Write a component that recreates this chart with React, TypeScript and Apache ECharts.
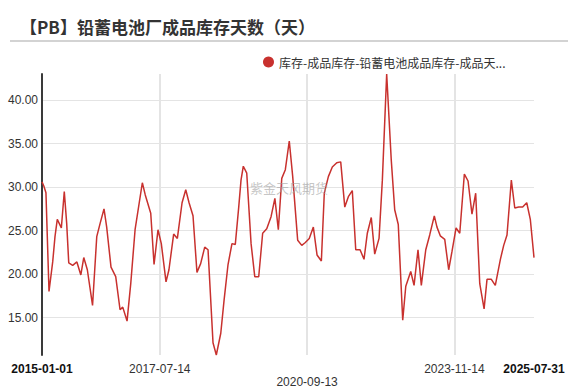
import React, { useEffect, useRef } from "react";
import * as echarts from "echarts";

const TITLE = "【PB】铅蓄电池厂成品库存天数（天）";
const SERIES_NAME = "库存-成品库存-铅蓄电池成品库存-成品天数（天）";
const WATERMARK = "紫金天风期货";

const dates: string[] = [
  "2015-01-01", "2015-01-16", "2015-02-01", "2015-02-25", "2015-03-26", "2015-04-13", "2015-05-01", "2015-05-17",
  "2015-06-02", "2015-06-25", "2015-07-14", "2015-07-30", "2015-08-30", "2015-10-02", "2015-11-02", "2015-11-25",
  "2015-12-23", "2016-02-02", "2016-03-06", "2016-04-01", "2016-05-02", "2016-05-23", "2016-06-26", "2016-08-02",
  "2016-09-05", "2016-09-26", "2016-10-30", "2016-11-28", "2017-01-01", "2017-02-27", "2017-03-22", "2017-05-04",
  "2017-05-30", "2017-06-30", "2017-07-26", "2017-09-01", "2017-09-24", "2017-10-31", "2017-11-29", "2018-01-05",
  "2018-02-03", "2018-03-01", "2018-04-01", "2018-05-02", "2018-05-31", "2018-07-02", "2018-07-28", "2018-09-05",
  "2018-10-01", "2018-11-05", "2018-12-01", "2019-01-01", "2019-02-01", "2019-02-27", "2019-03-26", "2019-04-13",
  "2019-05-01", "2019-05-28", "2019-07-01", "2019-07-30", "2019-08-30", "2019-09-30", "2019-11-01", "2019-12-05",
  "2020-01-04", "2020-01-31", "2020-02-27", "2020-03-26", "2020-04-26", "2020-05-23", "2020-07-01", "2020-08-02",
  "2020-08-28", "2020-09-30", "2020-11-01", "2020-11-30", "2021-01-03", "2021-01-26", "2021-02-27", "2021-03-30",
  "2021-05-04", "2021-06-04", "2021-07-06", "2021-08-03", "2021-09-03", "2021-09-30", "2021-11-03", "2021-12-04",
  "2021-12-30", "2022-01-30", "2022-02-26", "2022-04-01", "2022-04-27", "2022-05-31", "2022-07-06", "2022-08-02",
  "2022-08-30", "2022-10-04", "2022-10-28", "2022-12-06", "2023-01-01", "2023-02-01", "2023-02-27", "2023-04-03",
  "2023-05-04", "2023-06-09", "2023-06-30", "2023-07-26", "2023-08-30", "2023-09-30", "2023-10-26", "2023-11-27",
  "2023-12-26", "2024-01-31", "2024-02-29", "2024-03-31", "2024-04-29", "2024-05-31", "2024-07-04", "2024-07-27",
  "2024-08-30", "2024-09-30", "2024-11-09", "2024-12-05", "2024-12-31", "2025-02-03", "2025-03-02", "2025-04-02",
  "2025-05-03", "2025-06-04", "2025-07-02", "2025-07-31",
];

const values: number[] = [
  30.6, 30.1, 29.35, 18.0, 21.4, 24.3, 26.3, 25.8,
  25.3, 29.5, 25.8, 21.3, 21.0, 21.4, 19.9, 21.9,
  20.5, 16.4, 24.3, 25.8, 27.5, 25.4, 20.8, 19.7,
  15.9, 16.2, 14.6, 18.9, 25.1, 30.5, 29.1, 27.0,
  21.1, 25.1, 23.5, 19.1, 20.5, 24.6, 24.1, 28.2,
  29.7, 28.2, 26.7, 20.2, 21.2, 23.1, 22.8, 12.1,
  10.7, 13.2, 17.0, 21.1, 23.5, 23.4, 27.7, 30.8,
  32.4, 31.6, 23.5, 19.7, 19.7, 24.7, 25.2, 26.6,
  28.7, 25.1, 31.0, 32.0, 35.3, 31.2, 23.9, 23.3,
  23.6, 24.1, 25.4, 22.2, 21.5, 29.3, 31.2, 32.3,
  32.8, 32.9, 27.7, 28.9, 29.6, 22.8, 22.8, 21.7,
  24.7, 26.5, 22.3, 24.1, 30.8, 43.0, 33.1, 27.4,
  25.7, 14.7, 18.6, 20.3, 18.7, 22.8, 18.7, 22.8,
  24.5, 26.7, 25.4, 24.4, 24.0, 20.5, 22.6, 25.3,
  24.7, 31.5, 30.7, 26.9, 29.3, 18.9, 16.0, 19.4,
  19.4, 18.7, 21.7, 23.3, 24.5, 30.8, 27.6, 27.7,
  27.7, 28.2, 26.3, 21.9,
];

const xTickLabels: string[] = ["2015-01-01", "2017-07-14", "2020-09-13", "2023-11-14", "2025-07-31"];

const LINE_COLOR = "#c8312e";
const FONT = "'Liberation Sans', Arial, 'Noto Sans CJK SC', sans-serif";

export default function App() {
  const ref = useRef<HTMLDivElement>(null);

  useEffect(() => {
    if (!ref.current) return;
    const chart = echarts.init(ref.current, null, { renderer: "svg" });
    const toTs = (d: string) => +echarts.time.parse(d);
    const tickValues = xTickLabels.map(toTs);
    const first = tickValues[0];
    const last = tickValues[tickValues.length - 1];
    const labelOf = (v: number) => {
      let best = 0;
      for (let i = 1; i < tickValues.length; i++) {
        if (Math.abs(tickValues[i] - v) < Math.abs(tickValues[best] - v)) best = i;
      }
      return { text: xTickLabels[best], idx: best };
    };
    chart.setOption({
      animation: false,
      backgroundColor: "#ffffff",
      title: {
        text: TITLE,
        left: 15,
        top: 13,
        textStyle: {
          fontSize: 17,
          fontWeight: "bold",
          color: "#333333",
          fontFamily: "'Noto Sans CJK SC', sans-serif",
        },
      },
      legend: {
        show: true,
        left: 258,
        top: 51,
        icon: "circle",
        itemWidth: 11,
        itemHeight: 11,
        itemGap: 10,
        textStyle: {
          fontSize: 12,
          color: "#333333",
          fontFamily: "'Noto Sans CJK SC', sans-serif",
          width: 233,
          overflow: "truncate",
          ellipsis: "...",
        },
      },
      graphic: [
        {
          type: "line",
          shape: { x1: 10, y1: 41, x2: 568, y2: 41 },
          style: { stroke: "#c4c4c4", lineWidth: 1.5 },
          silent: true,
        },
        {
          type: "text",
          left: 250,
          top: 181,
          style: {
            text: WATERMARK,
            fontSize: 13,
            fill: "rgba(160,160,160,0.6)",
            fontFamily: "'Noto Sans CJK SC', sans-serif",
          },
          silent: true,
          z: 100,
        },
      ],
      grid: {
        left: 42,
        right: 44,
        top: 74,
        bottom: 33,
        containLabel: false,
        outerBoundsMode: "none",
      },
      xAxis: {
        type: "value",
        min: first,
        max: last,
        axisLine: { show: false },
        axisTick: { show: false, customValues: tickValues },
        splitLine: {
          show: true,
          showMinLine: false,
          showMaxLine: false,
          lineStyle: { color: "#e4e4e4", width: 2 },
        },
        axisLabel: {
          customValues: tickValues,
          color: "#333333",
          fontSize: 12,
          fontFamily: FONT,
          margin: 8,
          hideOverlap: false,
          showMinLabel: true,
          showMaxLabel: true,
          formatter: (v: number) => {
            const { text, idx } = labelOf(v);
            if (idx === 0 || idx === xTickLabels.length - 1) return "{b|" + text + "}";
            if (idx === 2) return "{m|" + text + "}";
            return text;
          },
          rich: {
            b: { fontWeight: "bold", fontSize: 12, color: "#111111", fontFamily: FONT },
            m: { fontSize: 12, color: "#333333", fontFamily: FONT, padding: [13, 0, 0, 0] },
          },
        },
      },
      yAxis: {
        type: "value",
        min: "dataMin",
        max: "dataMax",
        axisLine: { show: true, lineStyle: { color: "#3a3a3a", width: 2 } },
        axisTick: { show: false },
        splitLine: {
          show: true,
          showMinLine: false,
          showMaxLine: false,
          lineStyle: { color: "#e4e4e4", width: 1 },
        },
        axisLabel: {
          color: "#333333",
          fontSize: 12,
          fontFamily: FONT,
          margin: 4,
          showMinLabel: false,
          showMaxLabel: false,
          formatter: (v: number) => v.toFixed(2),
        },
      },
      series: [
        {
          name: SERIES_NAME,
          type: "line",
          data: dates.map((d, i) => [toTs(d), values[i]]),
          showSymbol: false,
          symbol: "circle",
          color: LINE_COLOR,
          lineStyle: { color: LINE_COLOR, width: 1.5 },
          itemStyle: { color: LINE_COLOR },
        },
      ],
    });
    return () => chart.dispose();
  }, []);

  return <div ref={ref} style={{ width: 578, height: 388, position: "absolute", left: 0, top: 0 }} />;
}
